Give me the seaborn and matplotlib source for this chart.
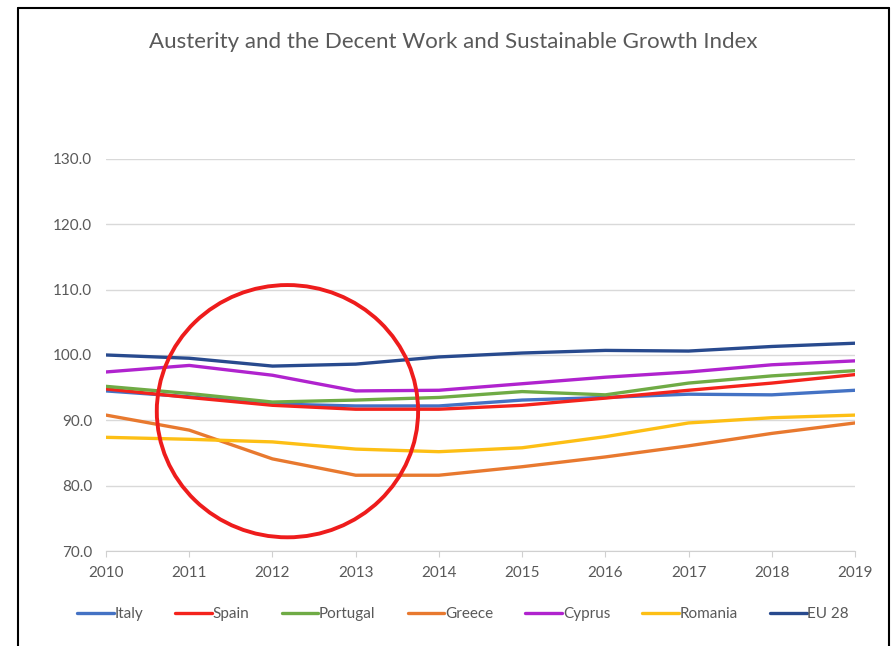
import matplotlib
matplotlib.use("Agg")
import matplotlib.pyplot as plt
from matplotlib.patches import Ellipse
from matplotlib.lines import Line2D
import pandas as pd
import seaborn as sns

years = [2010, 2011, 2012, 2013, 2014, 2015, 2016, 2017, 2018, 2019]
italy = [94.5, 93.6, 92.5, 92.2, 92.2, 93.1, 93.5, 94.0, 93.9, 94.6]
spain = [94.8, 93.5, 92.3, 91.7, 91.7, 92.3, 93.4, 94.6, 95.7, 97.0]
portugal = [95.2, 94.1, 92.8, 93.1, 93.5, 94.4, 93.9, 95.7, 96.8, 97.6]
greece = [90.8, 88.5, 84.1, 81.6, 81.6, 82.9, 84.4, 86.1, 88.0, 89.6]
cyprus = [97.4, 98.4, 96.9, 94.5, 94.6, 95.6, 96.6, 97.4, 98.5, 99.1]
romania = [87.4, 87.1, 86.7, 85.6, 85.2, 85.8, 87.5, 89.6, 90.4, 90.8]
eu28 = [100.0, 99.5, 98.3, 98.6, 99.7, 100.3, 100.7, 100.6, 101.3, 101.8]

series = ["Italy", "Spain", "Portugal", "Greece", "Cyprus", "Romania", "EU 28"]
values = [italy, spain, portugal, greece, cyprus, romania, eu28]
colors = ["#4472C4", "#F4231C", "#6FAB45", "#E8792F", "#B023CE", "#FDBF15", "#284A8E"]

rows = []
for name, vals in zip(series, values):
    for y, v in zip(years, vals):
        rows.append({"year": y, "index": v, "country": name})
df = pd.DataFrame(rows)

sns.set_style("white")
plt.rcParams["font.family"] = ["Lato", "DejaVu Sans"]

fig = plt.figure(figsize=(8.94, 6.46), dpi=100)
ax = fig.add_axes([0.1186, 0.147, 0.8378, 0.607])

sns.lineplot(data=df, x="year", y="index", hue="country", hue_order=series,
             palette=colors, linewidth=2.4, ax=ax, legend=False)

ax.set_xlim(2010, 2019)
ax.set_ylim(70, 130)
ax.set_yticks([70, 80, 90, 100, 110, 120, 130])
ax.set_yticklabels(["%.1f" % t for t in [70, 80, 90, 100, 110, 120, 130]])
ax.set_xticks(years)
ax.set_xticklabels([str(y) for y in years])
ax.set_xlabel("")
ax.set_ylabel("")
ax.grid(axis="y", color="#d9d9d9", linewidth=1)
ax.grid(axis="x", visible=False)
for s in ["top", "right", "left"]:
    ax.spines[s].set_visible(False)
ax.spines["bottom"].set_color("#d0d0d0")
ax.tick_params(axis="x", colors="#595959", labelsize=11, length=4, pad=7,
               bottom=True, direction="out", color="#d0d0d0")
ax.tick_params(axis="y", colors="#595959", labelsize=11, length=0, pad=10)

fig.text(0.507, 0.935, "Austerity and the Decent Work and Sustainable Growth Index",
         fontsize=16, color="#595959", ha="center", va="center")

circle = Ellipse((2012.18, 91.4), 3.14, 38.6, fill=False, edgecolor="#EE1C1C",
                 linewidth=2.8, clip_on=False, zorder=5)
ax.add_patch(circle)

handles = [Line2D([0], [0], color=c, linewidth=2.4) for c in colors]
fig.legend(handles, series, loc="center", bbox_to_anchor=(0.518, 0.049), ncol=7,
           frameon=False, fontsize=11, handlelength=2.4, handletextpad=0.05,
           columnspacing=2.1, labelcolor="#595959")

# outer frame of the picture
fig.add_artist(Line2D([0.02, 0.02], [0.0, 0.9876], color="black", linewidth=1.5,
                      transform=fig.transFigure))
fig.add_artist(Line2D([0.02, 0.9944], [0.9876, 0.9876], color="black", linewidth=1.5,
                      transform=fig.transFigure))
fig.add_artist(Line2D([0.9944, 0.9944], [0.0, 0.9876], color="black", linewidth=1.5,
                      transform=fig.transFigure))

fig.savefig("out.png", dpi=100)
